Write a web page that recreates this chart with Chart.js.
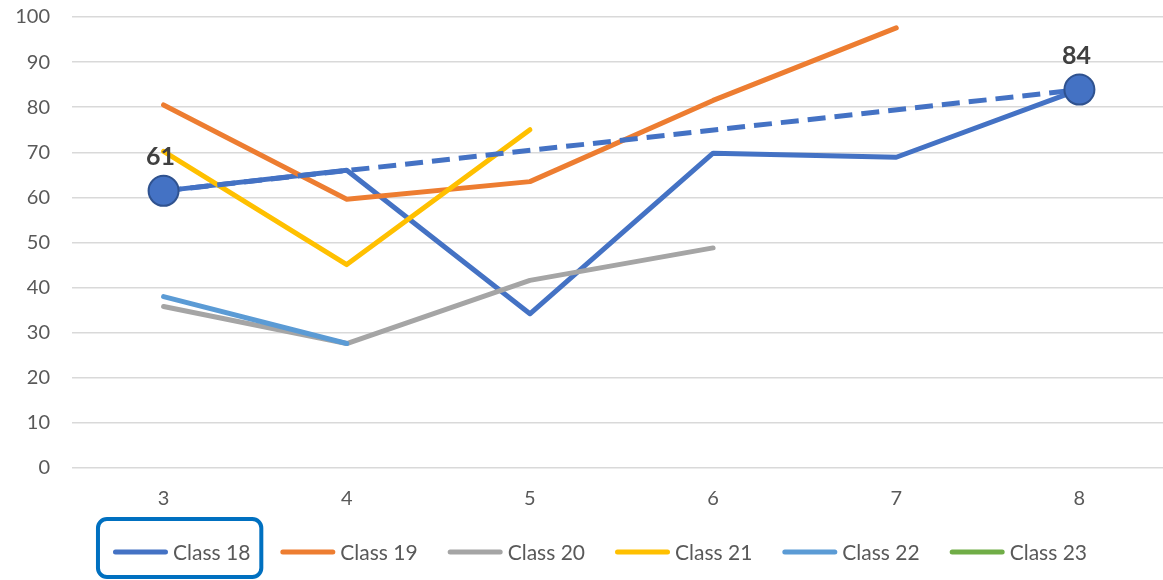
<!DOCTYPE html>
<html>
<head>
<meta charset="utf-8">
<script src="https://cdn.jsdelivr.net/npm/chart.js@4.4.1/dist/chart.umd.min.js"></script>
<style>
  html, body { margin: 0; padding: 0; background: #fff; overflow: hidden; }
  #wrap { position: relative; width: 1188px; height: 580px; }
</style>
</head>
<body>
<div id="wrap"><canvas id="c" width="1188" height="580"></canvas></div>
<script>
// ---- data ----
const categories = ['3', '4', '5', '6', '7', '8'];
const class18 = [61.45, 66.0, 34.2, 69.8, 68.9, 83.9];
const class19 = [80.5, 59.6, 63.5, 81.5, 97.6, null];
const class20 = [35.8, 27.6, 41.6, 48.8, null, null];
const class21 = [70.2, 45.1, 75.0, null, null, null];
const class22 = [38.0, 27.6, null, null, null, null];
const class23 = [null, null, null, null, null, null];
const trend18 = [61.45, null, null, null, null, 83.9];
const seriesNames = ['Class 18', 'Class 19', 'Class 20', 'Class 21', 'Class 22', 'Class 23'];
const seriesColors = ['#4472C4', '#ED7D31', '#A5A5A5', '#FFC000', '#5B9BD5', '#70AD47'];
const yTicks = [0, 10, 20, 30, 40, 50, 60, 70, 80, 90, 100];

const FONT = 'Lato, "Open Sans", sans-serif';
const seriesData = [class18, class19, class20, class21, class22, class23];

const datasets = seriesData.map((d, i) => ({
  label: seriesNames[i],
  data: d,
  borderColor: seriesColors[i],
  backgroundColor: seriesColors[i],
  borderWidth: 5,
  pointRadius: 0,
  borderCapStyle: 'round',
  borderJoinStyle: 'round',
  tension: 0,
  order: 6 - i
}));
datasets.push({
  label: 'trend',
  data: trend18,
  spanGaps: true,
  borderColor: '#4472C4',
  backgroundColor: '#4472C4',
  borderWidth: 5,
  borderDash: [18, 9],
  pointRadius: 15,
  pointBorderColor: '#2F528F',
  pointBorderWidth: 2,
  pointBackgroundColor: '#4472C4',
  order: 0,
  isTrend: true
});

const labelPlugin = {
  id: 'endLabels',
  afterDatasetsDraw(chart) {
    const ctx = chart.ctx;
    chart.data.datasets.forEach((ds, di) => {
      if (!ds.isTrend) return;
      const meta = chart.getDatasetMeta(di);
      meta.data.forEach((pt, j) => {
        const v = ds.data[j];
        if (v === null || v === undefined) return;
        ctx.save();
        ctx.font = 'bold 25px ' + FONT;
        ctx.fillStyle = '#404040';
        ctx.textAlign = 'center';
        ctx.textBaseline = 'middle';
        ctx.fillText(String(Math.round(v)), pt.x - 3, pt.y - 34);
        ctx.restore();
      });
    });
  }
};

const legendPlugin = {
  id: 'customLegend',
  afterDraw(chart) {
    const ctx = chart.ctx;
    ctx.save();
    ctx.font = '21px ' + FONT;
    const lineLen = 55, gapText = 5, itemGap = 30;
    const widths = seriesNames.map(n => lineLen + gapText + ctx.measureText(n).width);
    const total = widths.reduce((a, b) => a + b, 0) + itemGap * (widths.length - 1);
    let x = 600 - total / 2;
    const y = 552;
    seriesNames.forEach((n, i) => {
      const x0 = x;
      ctx.strokeStyle = seriesColors[i];
      ctx.lineWidth = 5;
      ctx.lineCap = 'round';
      ctx.beginPath();
      ctx.moveTo(x + 2.5, y);
      ctx.lineTo(x + lineLen - 2.5, y);
      ctx.stroke();
      ctx.fillStyle = '#595959';
      ctx.textAlign = 'left';
      ctx.textBaseline = 'middle';
      ctx.fillText(n, x + lineLen + gapText, y + 1);
      if (i === 0) {
        const bx = x0 - 15, by = 519, bw = widths[i] + 26, bh = 58, r = 9;
        ctx.strokeStyle = '#0070C0';
        ctx.lineWidth = 4;
        ctx.beginPath();
        ctx.roundRect(bx, by, bw, bh, r);
        ctx.stroke();
      }
      x += widths[i] + itemGap;
    });
    ctx.restore();
  }
};

new Chart(document.getElementById('c'), {
  type: 'line',
  data: { labels: categories, datasets },
  options: {
    responsive: false,
    animation: false,
    events: [],
    layout: { padding: { top: 16, right: 0, left: 0, bottom: 0 } },
    plugins: { legend: { display: false }, tooltip: { enabled: false } },
    scales: {
      x: {
        type: 'category',
        offset: true,
        grid: { display: false, drawTicks: false },
        border: { display: false },
        ticks: { color: '#595959', font: { family: FONT, size: 20 }, padding: 19 },
        afterFit(s) { s.height = 112; s.paddingLeft = 0; s.paddingRight = 0; }
      },
      y: {
        min: 0, max: 100,
        afterBuildTicks(s) { s.ticks = yTicks.map(v => ({ value: v })); },
        grid: { color: '#D9D9D9', lineWidth: 1.5, drawTicks: false },
        border: { display: false },
        ticks: { color: '#595959', font: { family: FONT, size: 20 }, padding: 22 },
        afterFit(s) { s.width = 72; s.paddingTop = 0; s.paddingBottom = 0; }
      }
    }
  },
  plugins: [labelPlugin, legendPlugin]
});
</script>
</body>
</html>
